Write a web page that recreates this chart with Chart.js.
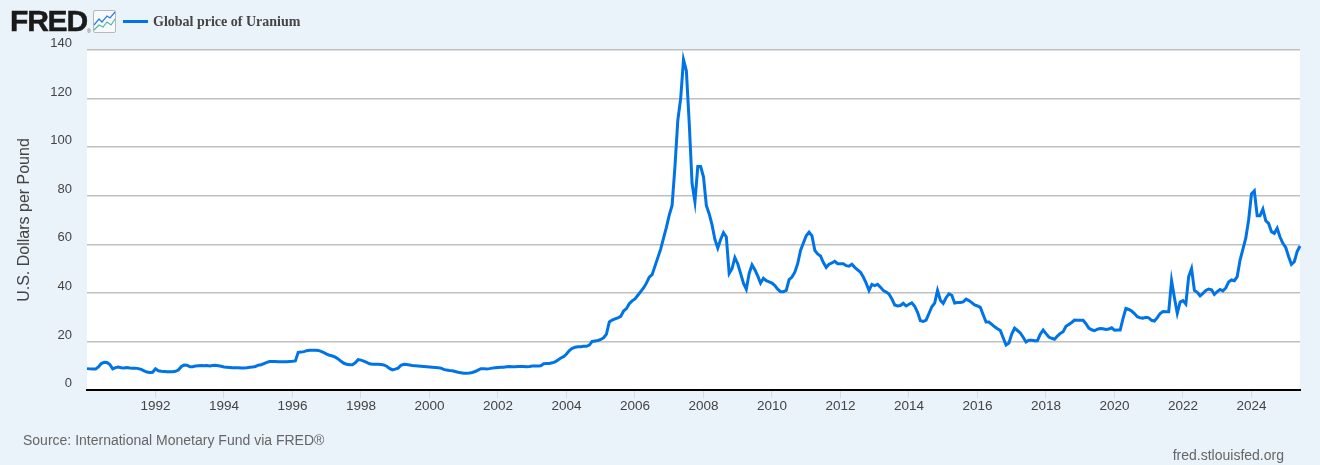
<!DOCTYPE html>
<html>
<head>
<meta charset="utf-8">
<title>Global price of Uranium</title>
<script src="https://cdn.jsdelivr.net/npm/chart.js@4"></script>
<style>
html,body{margin:0;padding:0;background:#eaf2fa;width:1320px;height:465px;overflow:hidden;font-family:"Liberation Sans",Arial,sans-serif}
#wrap{position:relative;width:1320px;height:465px}
canvas{position:absolute;left:0;top:0}
.abs{position:absolute;white-space:nowrap}
#logo{left:10px;top:4px;font-size:30px;line-height:34px;font-weight:700;letter-spacing:-1.2px;color:#1a1a1a;-webkit-text-stroke:.5px #1a1a1a}
#reg{left:87px;top:28px;font-size:5px;line-height:6px;color:#555}
#swatch{left:123px;top:20px;width:25px;height:3px;background:#0073e6}
#legend{left:153px;top:13px;font:bold 14px/17px "Liberation Serif",serif;color:#444}
#source{left:23px;top:432px;font-size:14px;line-height:17px;color:#666}
#site{right:36px;top:447px;font-size:14px;line-height:17px;color:#666}
#icon{left:93px;top:10px}
</style>
</head>
<body>
<div id="wrap">
<canvas id="c" width="1320" height="465"></canvas>
<div class="abs" id="logo">FRED</div><div class="abs" id="reg">®</div>
<svg class="abs" id="icon" width="23" height="23" viewBox="0 0 23 23"><rect x=".5" y=".5" width="22" height="22" rx="1.5" fill="#f7f9fc" stroke="#b8b8b8"/><polyline points="1,15 6,9 9,12 14,6 17,8 22,2" fill="none" stroke="#2a7de1" stroke-width="1.2"/><polyline points="1,20 6,15 10,17 14,12 18,15 22,9" fill="none" stroke="#4fb89a" stroke-width="1.2"/></svg>
<div class="abs" id="swatch"></div>
<div class="abs" id="legend">Global price of Uranium</div>
<div class="abs" id="source">Source: International Monetary Fund via FRED®</div>
<div class="abs" id="site">fred.stlouisfed.org</div>
</div>
<script>
const startYear = 1990;
const seriesName = "Global price of Uranium";
const yAxisTitle = "U.S. Dollars per Pound";
const uraniumPrice = [
 8.8,8.7,8.6,8.6,9.5,10.9,11.4,11.3,10.5,8.7,9.2,9.5,
 9.2,9.1,9.3,9.1,9.0,9.0,8.8,8.5,7.9,7.4,7.2,7.3,
 8.7,7.9,7.7,7.6,7.5,7.5,7.5,7.7,8.2,9.6,10.3,10.2,
 9.6,9.6,9.9,10,10.1,10,10.1,9.9,10.1,10.2,10,9.8,
 9.5,9.4,9.3,9.2,9.2,9.2,9.1,9.1,9.2,9.4,9.5,9.7,
 10.2,10.4,10.9,11.4,11.7,11.7,11.7,11.6,11.6,11.6,11.6,11.7,
 11.8,12,15.5,15.6,15.8,16.2,16.4,16.4,16.4,16.3,15.9,15.4,
 14.8,14.3,14,13.5,12.8,11.8,11,10.6,10.4,10.4,11.2,12.5,
 12.3,11.9,11.4,10.8,10.6,10.6,10.6,10.5,10.3,9.8,8.9,8.3,
 8.6,9,10.2,10.6,10.5,10.3,10.1,10,9.9,9.8,9.7,9.6,
 9.5,9.4,9.3,9.2,9,8.5,8.2,8,7.9,7.6,7.3,7.1,
 6.9,6.9,7,7.2,7.6,8.2,8.8,8.8,8.7,8.8,9,9.2,
 9.3,9.4,9.4,9.6,9.7,9.6,9.6,9.7,9.7,9.7,9.6,9.7,
 9.9,9.9,9.9,10,10.8,10.9,10.9,11.2,11.6,12.3,13.2,13.7,
 14.8,16.2,17.2,17.6,17.8,17.8,18,18,18.5,20,20.2,20.4,
 20.8,21.5,23,28,28.8,29.3,29.7,30.3,32.5,33.5,35.5,36.7,
 37.5,39,40.5,42,44,46.5,47.5,51,54.5,58,62.5,67,
 72,76,92,111,120,136,131.5,110,85,77.5,92,92,
 87.8,76,72.5,68,62,58.5,62,64.8,63,48,50,54.5,
 52,48,44,41.5,48,51.5,49.5,47,44,46,45,44.5,
 44,43,41.5,40.5,40.5,41,45.5,46.5,48.5,52,57.5,60.5,
 63.5,65,63.5,57.5,56,55.2,52.5,50.5,51.8,52.3,53,52,
 52,52,51.2,51,51.8,50.5,49.5,48.5,46.5,44,41,43.5,
 43,43.5,42.3,41,40.3,39.5,37.5,35,34.6,34.8,35.7,34.6,
 35.3,35.9,34.5,32,28.5,28.2,28.8,31.5,34.3,35.8,41,37,
 35.7,38,39.6,39,35.8,36,36,36.3,37.4,36.8,36,35,
 34.6,34,31,28,28,27,26,25.2,24.5,21.5,18.5,19.3,
 23,25.5,24.5,23.5,21.7,19.8,20.5,20.5,20.3,20.3,23,24.7,
 23.2,21.8,21.3,20.9,22.2,23.3,24,26.2,27,27.8,28.8,28.7,
 28.7,28.7,27.3,25.5,24.8,24.4,25,25.3,25.2,24.9,25.1,25.6,
 24.6,24.7,24.7,29.5,33.6,33.2,32.5,31.5,30.2,29.7,29.6,29.9,
 29.7,28.7,28.4,29.8,31.5,32.3,32.2,32.2,45,38,31.6,36.2,
 36.8,35.4,46.7,50,41,40.2,38.8,39.8,41,41.6,41.3,39.4,
 40.5,41.4,40.8,42,44.5,45.3,45,46.7,53.5,58,62.5,70,
 80.7,82,71.8,71.8,74.5,69.7,68.6,65.2,64.5,66.6,63,60.4,
 58.7,55,51.7,52.8,57,59.3
];
const monthLabels = uraniumPrice.map((_, i) =>
  (startYear + Math.floor(i / 12)) + "-" + String(i % 12 + 1).padStart(2, "0"));
const axisFont = {family: '"Liberation Sans",Arial,sans-serif', size: 13, lineHeight: 1};

const plotBackground = {
  id: "plotBackground",
  beforeDraw(chart) {
    const a = chart.chartArea, c = chart.ctx;
    c.save(); c.fillStyle = "#ffffff";
    c.fillRect(a.left, a.top, a.right - a.left, a.bottom - a.top);
    c.restore();
  }
};

new Chart(document.getElementById("c"), {
  type: "line",
  plugins: [plotBackground],
  data: {
    labels: monthLabels,
    datasets: [{
      label: seriesName, data: uraniumPrice,
      borderColor: "#0073e6", borderWidth: 3, tension: 0,
      pointRadius: 0, fill: false, borderJoinStyle: "miter"
    }]
  },
  options: {
    responsive: false, animation: false,
    layout: {padding: {top: 50, right: 20, left: 0, bottom: 0}},
    plugins: {legend: {display: false}, tooltip: {enabled: false}, title: {display: false}},
    scales: {
      x: {
        type: "category", offset: false,
        afterBuildTicks(s) {
          s.ticks = s.ticks.filter(t => {
            const l = monthLabels[t.value], y = +l.slice(0, 4);
            return l.endsWith("-01") && y % 2 === 0 && y > startYear;
          });
        },
        afterFit(s) { s.height = 75; },
        grid: {drawOnChartArea: false, drawTicks: true, tickLength: 8, tickColor: "#cfdcee", tickWidth: 1, offset: false},
        border: {color: "#000000", width: 2},
        ticks: {
          autoSkip: false, maxRotation: 0, minRotation: 0, padding: 0,
          color: "#444444", font: {family: axisFont.family, size: 13.5},
          callback(v) { return monthLabels[v].slice(0, 4); }
        }
      },
      y: {
        min: 0, max: 140,
        afterFit(s) { s.width = 87; },
        grid: {color: "#c0c0c0", lineWidth: 1.4, drawTicks: false},
        border: {display: false},
        title: {display: true, text: yAxisTitle, color: "#444444",
                font: {family: axisFont.family, size: 16}, padding: {top: 15, bottom: 0}},
        ticks: {
          stepSize: 20, padding: 15, color: "#444444", font: axisFont,
          callback(v) { return [String(v), ""]; }
        }
      }
    }
  }
});
</script>
</body>
</html>
